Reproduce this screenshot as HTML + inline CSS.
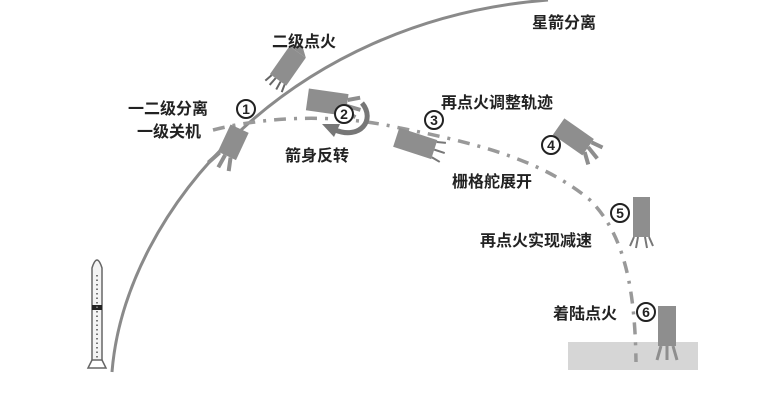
<!DOCTYPE html>
<html><head><meta charset="utf-8"><style>
html,body{margin:0;padding:0;background:#fff;}
svg{display:block}
text{font-family:"Liberation Sans","Noto Sans CJK SC",sans-serif;font-weight:bold;font-size:16px;fill:#222}
.n{font-size:14px;text-anchor:middle}
</style></head><body>
<svg width="783" height="401" viewBox="0 0 783 401" xmlns="http://www.w3.org/2000/svg">
<rect width="783" height="401" fill="#fff"/>
<rect x="568" y="342" width="130" height="28" fill="#d6d6d6"/>
<path d="M112,372 C125,210 290,20 548,0" fill="none" stroke="#8a8a8a" stroke-width="3"/>
<path d="M213,130 C260,118 330,112 400,128 C470,142 540,158 590,200 C625,235 635,290 636,362" fill="none" stroke="#999" stroke-width="3.5" stroke-dasharray="12,8,3,8"/>
<g>
<path d="M92,360 L92,268 Q97,252 102,268 L102,360 Z" fill="#f4f4f4" stroke="#666" stroke-width="1.5"/>
<rect x="92" y="305" width="10" height="5" fill="#222"/>
<line x1="97" y1="275" x2="97" y2="358" stroke="#777" stroke-width="2" stroke-dasharray="1.5,3"/>
<path d="M92,360 L88,368 L106,368 L102,360" fill="none" stroke="#666" stroke-width="1.5"/>
</g>
<g transform="translate(285,70) rotate(35)">
<rect x="-10" y="-22" width="20" height="34" fill="#8e8e8e"/>
<path d="M-10,-22 L0,-30 L10,-22 Z" fill="#8e8e8e"/>
<path d="M-8,12 L-10,20 M-3,12 L-4,21 M3,12 L4,21 M8,12 L10,20" stroke="#666" stroke-width="2"/>
</g>
<g transform="translate(232,145) rotate(25)">
<rect x="-10" y="-18" width="20" height="30" fill="#8e8e8e"/>
<path d="M-8,12 L-14,26 M-2,12 L-3,26 M4,12 L8,25" stroke="#8e8e8e" stroke-width="4"/>
</g>
<g transform="translate(333,104) rotate(8)">
<rect x="-26" y="-12" width="40" height="22" fill="#8e8e8e"/>
<path d="M14,-6 L26,-10 M14,0 L28,2 M14,6 L24,10" stroke="#8e8e8e" stroke-width="4"/>
</g>
<path d="M362,103 C376,120 360,140 335,130" fill="none" stroke="#777" stroke-width="5"/>
<path d="M340,124 L322,124 L334,137 Z" fill="#777"/>
<g transform="translate(420,145) rotate(18)">
<rect x="-25" y="-10" width="40" height="20" fill="#8e8e8e"/>
<path d="M15,-8 L24,-10 M15,0 L26,0 M15,8 L24,10" stroke="#777" stroke-width="2"/>
</g>
<g transform="translate(575,138) rotate(35)">
<rect x="-20" y="-10" width="36" height="20" fill="#8e8e8e"/>
<path d="M16,-6 L28,-8 M16,0 L30,4 M16,6 L26,14" stroke="#8e8e8e" stroke-width="4"/>
</g>
<rect x="633" y="197" width="17" height="40" fill="#8e8e8e"/>
<path d="M634,237 L630,246 M638,237 L636,248 M645,237 L647,248 M649,237 L653,246" stroke="#777" stroke-width="2"/>
<rect x="658" y="306" width="18" height="40" fill="#8e8e8e"/>
<path d="M661,346 L657,360 M667,346 L667,360 M673,346 L677,360" stroke="#8e8e8e" stroke-width="3"/>
<g fill="#fff" stroke="#222" stroke-width="2">
<circle cx="246" cy="109" r="9"/><circle cx="344" cy="114" r="9"/><circle cx="434" cy="120" r="9"/>
<circle cx="551" cy="145" r="9"/><circle cx="620" cy="213" r="9"/><circle cx="646" cy="312" r="9"/>
</g>
<text class="n" x="246" y="114">1</text><text class="n" x="344" y="119">2</text><text class="n" x="434" y="125">3</text>
<text class="n" x="551" y="150">4</text><text class="n" x="620" y="218">5</text><text class="n" x="646" y="317">6</text>
<text x="272" y="47">二级点火</text>
<text x="532" y="28">星箭分离</text>
<text x="128" y="114">一二级分离</text>
<text x="137" y="137">一级关机</text>
<text x="285" y="161">箭身反转</text>
<text x="441" y="108">再点火调整轨迹</text>
<text x="452" y="187">栅格舵展开</text>
<text x="480" y="246">再点火实现减速</text>
<text x="553" y="319">着陆点火</text>
</svg>
</body></html>
